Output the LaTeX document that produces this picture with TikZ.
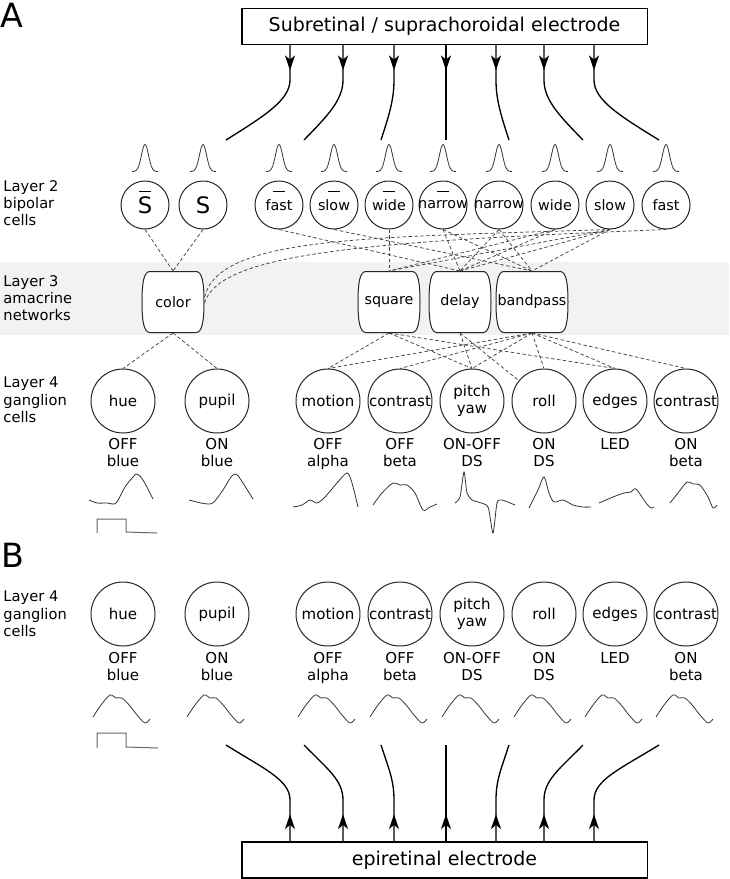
\documentclass[tikz,border=0pt]{standalone}
\usepackage{fontspec}
\setmainfont{DejaVu Sans}
\usetikzlibrary{arrows.meta,decorations.markings}

\begin{document}
\begin{tikzpicture}
  [
  x=0.75pt, y=-0.75pt, line width=0.75pt,
  bipolar/.style={circle, draw=black!85, inner sep=0pt, minimum size=36pt,
    font=\fontsize{10.75}{12}\selectfont},
  ganglion/.style={circle, draw=black!85, inner sep=0pt, minimum size=48pt,
    align=center, font=\fontsize{11.25}{13}\selectfont},
  amacrine/.style={inner sep=0pt, minimum height=45.75pt,
    font=\fontsize{10.75}{12}\selectfont},
  barrel/.style={draw=black!85, fill=white},
  celltype/.style={anchor=north, inner sep=0pt, align=center,
    font=\fontsize{11.25}{12.75}\selectfont},
  layer/.style={anchor=west, inner sep=0pt, align=left,
    font=\fontsize{11}{13}\selectfont},
  panel/.style={anchor=north west, inner sep=0pt, font=\fontsize{25}{25}\selectfont},
  electrode/.style={draw, line width=1pt, minimum width=304pt, minimum height=27pt,
    font=\fontsize{14.25}{16}\selectfont},
  synapse/.style={draw=black!75, line width=0.55pt, dash pattern=on 2.6pt off 1.8pt},
  trace/.style={draw=black!80, line width=0.6pt},
  pulse/.style={draw=black!60, line width=0.75pt},
  current/.style={line width=1pt, decoration={markings,
    mark=at position #1 with {\arrow{Stealth[length=11pt, width=7.5pt, inset=3pt]}}},
    postaction={decorate}}
  ]

\useasboundingbox (0,0) rectangle (729,879);
\fill[black!5] (0,262) rectangle (729,335);

% panels and layers
\node[panel] (panela) at (0,3) {A};
\node[panel] (panelb) at (1,543) {B};
\node[layer] (l2) at (3,203) {Layer 2\\bipolar\\cells};
\node[layer] (l3) at (3,298) {Layer 3\\amacrine\\networks};
\node[layer] (l4) at (3,400) {Layer 4\\ganglion\\cells};
\node[layer] (bl4) at (3,614) {Layer 4\\ganglion\\cells};

% stimulating electrodes
\node[electrode] (subelec) at (444.5,26.5) {Subretinal / suprachoroidal electrode};
\node[electrode] (epielec) at (444.5,860) {epiretinal electrode};

\foreach \xs/\xe in {290/226, 343/304, 394/381, 446/446, 496/509, 544/583, 594/659} {
  \draw[current=18.75pt] (subelec.south -| \xs,0) -- (\xs,80)
    .. controls (\xs,100) and ({0.6*\xs+0.4*\xe},116) .. (\xe,140);
  \draw[current=20.25pt] (epielec.north -| \xs,0) -- (\xs,800)
    .. controls (\xs,780) and ({0.6*\xs+0.4*\xe},769) .. (\xe,745);
}

% bipolar cells
\node[bipolar, font=\fontsize{17}{19}\selectfont] (sbar) at (145,205) {S};
\node[bipolar, font=\fontsize{17}{19}\selectfont] (s) at (203,205) {S};
\foreach \n/\x/\t in {fastbar/279/fast, slowbar/334/slow, widebar/389/wide,
  narrowbar/443/narrow, narrow/499/narrow, wide/555/wide, slow/610/slow, fast/666/fast}
  \node[bipolar] (\n) at (\x,205) {\makebox[0pt]{\t}};

\foreach \n in {sbar,fastbar,slowbar,widebar,narrowbar}
  \draw[line width=0.75pt] ([shift={(-6,-14)}]\n.center) -- ++(12,0);

\foreach \n in {sbar,s,fastbar,slowbar,widebar,narrowbar,narrow,wide,slow,fast}
  \draw[trace, shift={(\n.north)}] plot[domain=-13:13, samples=41, smooth]
    (\x, {-9-27*exp(-(\x)*(\x)/25)});

% amacrine networks
\foreach \n/\x/\w in {color/173/31, square/389/31, delay/460/31, bandpass/532/36} {
  \draw[barrel] (\x-\w+8,271.5) -- (\x+\w-8,271.5)
    .. controls (\x+\w-2,271.5) and (\x+\w,282) .. (\x+\w,302)
    .. controls (\x+\w,322) and (\x+\w-2,332.5) .. (\x+\w-8,332.5)
    -- (\x-\w+8,332.5)
    .. controls (\x-\w+2,332.5) and (\x-\w,322) .. (\x-\w,302)
    .. controls (\x-\w,282) and (\x-\w+2,271.5) .. (\x-\w+8,271.5) -- cycle;
  \node[amacrine, minimum width={1.5*\w*1pt}] (\n) at (\x,302) {\n};
}

\foreach \a/\b in {sbar/color, s/color, fastbar/delay, slowbar/bandpass,
  widebar/square, narrowbar/delay, narrowbar/bandpass, narrow/delay,
  narrow/bandpass, wide/square, wide/delay, slow/square, slow/delay, slow/bandpass}
  \draw[synapse] (\a.south) -- (\b.north);
\draw[synapse] ([shift={(0,-5)}]color.east) .. controls +(15,-60) and +(-250,8) .. (slow.south);
\draw[synapse] ([shift={(0,1)}]color.east) .. controls +(15,-50) and +(-300,12) .. (fast.south);

% ganglion cells
\foreach \n/\x/\t/\k in {hue/123/hue/{OFF\\blue}, pupil/217/pupil/{ON\\blue},
  motion/328/motion/{OFF\\alpha}, offcontrast/400/contrast/{OFF\\beta},
  pitch/472/{pitch\\yaw}/{ON-OFF\\DS}, roll/544/roll/{ON\\DS},
  edges/615/edges/LED, oncontrast/686/contrast/{ON\\beta}} {
  \node[ganglion] (\n) at (\x,401) {\t};
  \node[celltype] (\n type) at (\x,438) {\k};
  \node[ganglion] (b\n) at (\x,614) {\t};
  \node[celltype] (b\n type) at (\x,652) {\k};
  \draw[trace, shift={(b\n.center)}] plot[smooth] coordinates
    {(-30,103) (-22,91) (-13,81) (-7,84) (-1,84) (7,92) (14,101) (22,109) (27,105)};
}

\foreach \a/\b in {color/hue, color/pupil, square/motion, square/pitch, square/edges,
  delay/pitch, bandpass/motion, bandpass/offcontrast, bandpass/pitch, bandpass/roll,
  bandpass/edges, bandpass/oncontrast}
  \draw[synapse] (\a.south) -- (\b.north);
\draw[synapse] (delay.south) -- (roll);

% recorded responses
\draw[trace, shift={(hue.center)}] plot[smooth] coordinates
  {(-34,99) (-26,102) (-16,102) (-10,103) (-6,101) (2,86) (10,76) (14,73) (20,79) (30,98)};
\draw[trace, shift={(pupil.center)}] plot[smooth] coordinates
  {(-28,99) (-16,102) (-8,103) (-3,101) (6,89) (14,76) (19,73) (24,79) (36,98)};
\draw[trace, shift={(motion.center)}] plot[smooth] coordinates
  {(-35,106) (-26,104) (-18,99) (-11,102) (-3,96) (9,82) (19,72) (24,82) (30,106)};
\draw[trace, shift={(offcontrast.center)}] plot[smooth] coordinates
  {(-27,104) (-18,92) (-7,82) (0,84) (7,84) (15,92) (23,109) (30,106) (37,103)};
\draw[trace, shift={(pitch.center)}] plot[smooth, tension=0.4] coordinates
  {(-17,102) (-12,96) (-8,71) (-5,92) (0,99) (6,101) (16,106) (21,132) (25,102) (30,99) (43,104)};
\draw[trace, shift={(roll.center)}] plot[smooth] coordinates
  {(-15,107) (-6,89) (0,76) (5,92) (10,101) (19,99) (29,104) (39,106) (47,106)};
\draw[trace, shift={(edges.center)}] plot[smooth] coordinates
  {(-16,102) (-2,96) (9,92) (16,91) (21,88) (31,102) (36,107) (39,106)};
\draw[trace, shift={(oncontrast.center)}] plot[smooth] coordinates
  {(-16,102) (-8,92) (1,81) (7,83) (14,84) (22,96) (27,107) (31,104)};

\draw[pulse, shift={(hue.center)}] (-26,132) -- (-26,118) -- (3,118) -- (3,131) -- (34,132);
\draw[pulse, shift={(bhue.center)}] (-26,134) -- (-26,119) -- (3,119) -- (3,133) -- (35,134);

\end{tikzpicture}
\end{document}
